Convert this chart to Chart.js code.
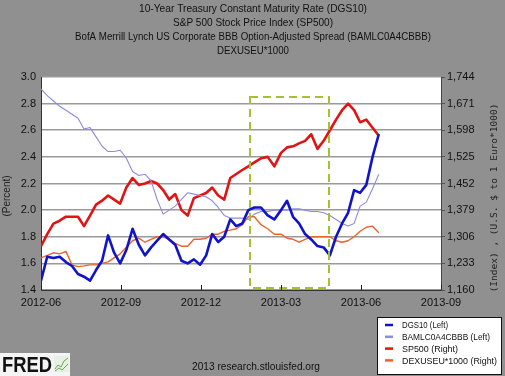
<!DOCTYPE html>
<html>
<head>
<meta charset="utf-8">
<script src="https://cdn.jsdelivr.net/npm/chart.js@4.4.1/dist/chart.umd.min.js"></script>
<style>
  html, body { margin: 0; padding: 0; background: #909090; }
  #wrap { width: 505px; height: 376px; }
</style>
</head>
<body>
<div id="wrap"><canvas id="fred-chart" width="505" height="376"></canvas></div>
<script>
const titleLines = [
    "10-Year Treasury Constant Maturity Rate (DGS10)",
    "S&P 500 Stock Price Index (SP500)",
    "BofA Merrill Lynch US Corporate BBB Option-Adjusted Spread (BAMLC0A4CBBB)",
    "DEXUSEU*1000",
];
const xTickLabels = ["2012-06", "2012-09", "2012-12", "2013-03", "2013-06", "2013-09"];
const seriesNames = ["DGS10 (Left)", "BAMLC0A4CBBB (Left)", "SP500 (Right)", "DEXUSEU*1000 (Right)"];
const seriesColors = ["#1014c8", "#8c8cdc", "#e01414", "#e8642c"];

// weekly readings, first one on 2012-06-01
const firstWeek = "2012-06-01";

const dgs10 = [
    1.47, 1.65, 1.64, 1.65, 1.61, 1.58, 1.52, 1.50, 1.47, 1.55,
    1.62, 1.81, 1.68, 1.60, 1.70, 1.86, 1.74, 1.66, 1.72, 1.77,
    1.82, 1.78, 1.74, 1.62, 1.60, 1.63, 1.59, 1.66, 1.82, 1.76,
    1.80, 1.93, 1.88, 1.90, 2.00, 2.02, 2.02, 1.96, 1.93, 2.00,
    2.07, 1.95, 1.90, 1.82, 1.78, 1.73, 1.72, 1.66, 1.80, 1.90,
    1.98, 2.15, 2.13, 2.19, 2.40, 2.57,
];
const bamlBBB = [
    2.91, 2.86, 2.82, 2.78, 2.75, 2.72, 2.69, 2.61, 2.62, 2.55,
    2.48, 2.44, 2.44, 2.45, 2.39, 2.29, 2.26, 2.27, 2.22, 2.08,
    1.97, 2.00, 2.03, 2.08, 2.13, 2.12, 2.11, 2.10, 2.07, 2.02,
    1.96, 1.94, 1.94, 1.94, 1.93, 1.97, 1.99, 1.99, 2.00, 2.00,
    2.00, 2.01, 2.01, 2.00, 1.99, 1.99, 1.98, 1.96, 1.93, 1.90,
    1.88, 1.90, 2.03, 2.06, 2.16, 2.27,
];
const sp500 = [
    1280, 1313, 1342, 1350, 1361, 1361, 1361, 1335, 1364, 1394,
    1405, 1419, 1408, 1397, 1441, 1467, 1448, 1452, 1459, 1452,
    1434, 1408, 1423, 1379, 1364, 1412, 1419, 1426, 1441, 1419,
    1408, 1467, 1478, 1489, 1499, 1510, 1521, 1525, 1499, 1536,
    1551, 1554, 1562, 1569, 1587, 1547, 1569, 1598, 1627, 1653,
    1671, 1653, 1620, 1627, 1605, 1583,
];
const dexuseu = [
    1248, 1255, 1262, 1259, 1266, 1229, 1224, 1226, 1229, 1229,
    1233, 1237, 1248, 1259, 1277, 1295, 1302, 1291, 1299, 1306,
    1306, 1299, 1288, 1280, 1280, 1299, 1299, 1302, 1313, 1313,
    1321, 1324, 1328, 1339, 1361, 1361, 1339, 1328, 1313, 1313,
    1302, 1299, 1291, 1299, 1306, 1306, 1306, 1306, 1295, 1291,
    1295, 1306, 1321, 1332, 1335, 1317,
];

// dashed highlight drawn on the chart
const highlight = { from: "2013-01-27", to: "2013-04-25", low: 1.415, high: 2.85 };

// months since 2012-06-01, so that each quarter gets the same width
function monthPos(str) {
    const [y, m, d] = str.split("-").map(Number);
    const days = new Date(y, m, 0).getDate();
    return (y - 2012) * 12 + (m - 6) + (d - 1) / days;
}

const weekDates = dgs10.map((_, i) => {
    const [y, m, d] = firstWeek.split("-").map(Number);
    return new Date(Date.UTC(y, m - 1, d + 7 * i)).toISOString().slice(0, 10);
});

const toPoints = (values) => values.map((v, i) => ({ x: monthPos(weekDates[i]), y: v }));

const fredDecor = {
    id: "fredDecor",
    beforeDraw(chart) {
        const { ctx, chartArea: a } = chart;
        ctx.save();
        ctx.fillStyle = "#909090";
        ctx.fillRect(0, 0, chart.width, chart.height);
        ctx.fillStyle = "#ffffff";
        ctx.fillRect(a.left, a.top, a.right - a.left, a.bottom - a.top);
        ctx.restore();
    },
    afterDatasetsDraw(chart) {
        const { ctx, scales } = chart;
        const x0 = scales.x.getPixelForValue(monthPos(highlight.from));
        const x1 = scales.x.getPixelForValue(monthPos(highlight.to));
        const y0 = scales.y.getPixelForValue(highlight.high);
        const y1 = scales.y.getPixelForValue(highlight.low);
        ctx.save();
        ctx.strokeStyle = "#a2c232";
        ctx.lineWidth = 2;
        ctx.setLineDash([8, 5]);
        ctx.strokeRect(x0, y0, x1 - x0, y1 - y0);
        ctx.restore();
    },
    afterDraw(chart) {
        const { ctx, chartArea: a, scales } = chart;
        ctx.save();

        // title
        ctx.fillStyle = "#111";
        ctx.textAlign = "center";
        ctx.textBaseline = "middle";
        ctx.font = "11px 'Liberation Sans', Arial, sans-serif";
        const widths = [228, 160, 356, 72];
        titleLines.forEach((t, i) => ctx.fillText(t, 253, 9 + i * 14, widths[i]));

        // small tick marks along the bottom of the plot
        ctx.strokeStyle = "#222";
        ctx.lineWidth = 1;
        scales.x.ticks.forEach((t) => {
            const px = Math.round(scales.x.getPixelForValue(t.value)) + 0.5;
            ctx.beginPath();
            ctx.moveTo(px, a.bottom);
            ctx.lineTo(px, a.bottom - 5);
            ctx.stroke();
        });

        // axis titles
        ctx.fillStyle = "#222";
        ctx.font = "10px 'Liberation Sans', Arial, sans-serif";
        ctx.save();
        ctx.translate(7, 196);
        ctx.rotate(-Math.PI / 2);
        ctx.fillText("(Percent)", 0, 0);
        ctx.restore();
        ctx.save();
        ctx.font = "9.5px 'DejaVu Sans Mono', monospace";
        ctx.translate(495, 198);
        ctx.rotate(-Math.PI / 2);
        ctx.fillText("(Index) , (U.S. $ to 1 Euro*1000)", 0, 0, 190);
        ctx.restore();

        // legend box
        ctx.fillStyle = "#ffffff";
        ctx.fillRect(377, 317, 124, 58);
        ctx.strokeStyle = "#111";
        ctx.strokeRect(377.5, 317.5, 124, 57);
        ctx.font = "9.5px 'Liberation Sans', Arial, sans-serif";
        ctx.textAlign = "left";
        const labelWidths = [46, 88, 56, 95];
        chart.data.datasets.forEach((ds, i) => {
            const ly = 325 + i * 11.8;
            ctx.strokeStyle = ds.borderColor;
            ctx.lineWidth = 2.5;
            ctx.beginPath();
            ctx.moveTo(385, ly);
            ctx.lineTo(393, ly);
            ctx.stroke();
            ctx.fillStyle = "#111";
            ctx.fillText(ds.label, 402, ly + 0.5, labelWidths[i]);
        });

        // footer
        ctx.textAlign = "center";
        ctx.font = "11px 'Liberation Sans', Arial, sans-serif";
        ctx.fillStyle = "#111";
        ctx.fillText("2013 research.stlouisfed.org", 256, 367, 128);

        // FRED logo
        ctx.fillStyle = "#f4f4f4";
        ctx.fillRect(0, 353, 70, 23);
        ctx.fillStyle = "#111";
        ctx.textAlign = "left";
        ctx.textBaseline = "alphabetic";
        ctx.font = "bold 22px 'Liberation Sans', Arial, sans-serif";
        ctx.fillText("FRED", 2, 372, 50);
        ctx.fillStyle = "#e8efe4";
        ctx.fillRect(54, 356, 15, 16);
        ctx.strokeStyle = "#6aa84f";
        ctx.lineWidth = 1;
        ctx.beginPath();
        ctx.moveTo(55, 369); ctx.lineTo(58, 365); ctx.lineTo(61, 367); ctx.lineTo(64, 361); ctx.lineTo(68, 358);
        ctx.stroke();
        ctx.beginPath();
        ctx.moveTo(55, 371); ctx.lineTo(59, 368); ctx.lineTo(62, 370); ctx.lineTo(68, 364);
        ctx.stroke();

        ctx.restore();
    },
};

const ctx = document.getElementById("fred-chart");

const tickFont = { family: "'Liberation Sans', Arial, sans-serif", size: 11 };

new Chart(ctx, {
    type: "line",
    data: {
        datasets: [
            { label: seriesNames[0], data: toPoints(dgs10), yAxisID: "y", borderColor: seriesColors[0], borderWidth: 2.6 },
            { label: seriesNames[1], data: toPoints(bamlBBB), yAxisID: "y", borderColor: seriesColors[1], borderWidth: 1.1 },
            { label: seriesNames[2], data: toPoints(sp500), yAxisID: "y1", borderColor: seriesColors[2], borderWidth: 2.6 },
            { label: seriesNames[3], data: toPoints(dexuseu), yAxisID: "y1", borderColor: seriesColors[3], borderWidth: 1.4 },
        ],
    },
    options: {
        responsive: false,
        animation: false,
        layout: { padding: { top: 77 } },
        elements: {
            point: { radius: 0 },
            line: { tension: 0, borderJoinStyle: "round" },
        },
        plugins: {
            legend: { display: false },
            tooltip: { enabled: false },
        },
        scales: {
            x: {
                type: "linear",
                min: 0,
                max: 15,
                afterFit: (s) => { s.height = 86; },
                ticks: {
                    stepSize: 3,
                    padding: 6,
                    autoSkip: false,
                    maxRotation: 0,
                    color: "#111",
                    font: tickFont,
                    callback: (v) => xTickLabels[v / 3],
                },
                grid: { drawOnChartArea: false, drawTicks: false },
                border: { color: "#333", width: 1 },
            },
            y: {
                position: "left",
                min: 1.4,
                max: 3.0,
                afterFit: (s) => { s.width = 41; },
                ticks: {
                    stepSize: 0.2,
                    padding: 5,
                    color: "#111",
                    font: tickFont,
                    callback: (v) => v.toFixed(1),
                },
                grid: { color: "#9a9a9a", lineWidth: 1.5, drawTicks: false },
                border: { color: "#333", width: 1 },
            },
            y1: {
                position: "right",
                min: 1160,
                max: 1744,
                afterFit: (s) => { s.width = 64; },
                ticks: {
                    stepSize: 73,
                    padding: 2,
                    color: "#111",
                    font: tickFont,
                    callback: (v) => v.toLocaleString("en-US"),
                },
                grid: { drawOnChartArea: false, tickLength: 4, color: "#555" },
                border: { color: "#444", width: 1 },
            },
        },
    },
    plugins: [fredDecor],
});
</script>
</body>
</html>
